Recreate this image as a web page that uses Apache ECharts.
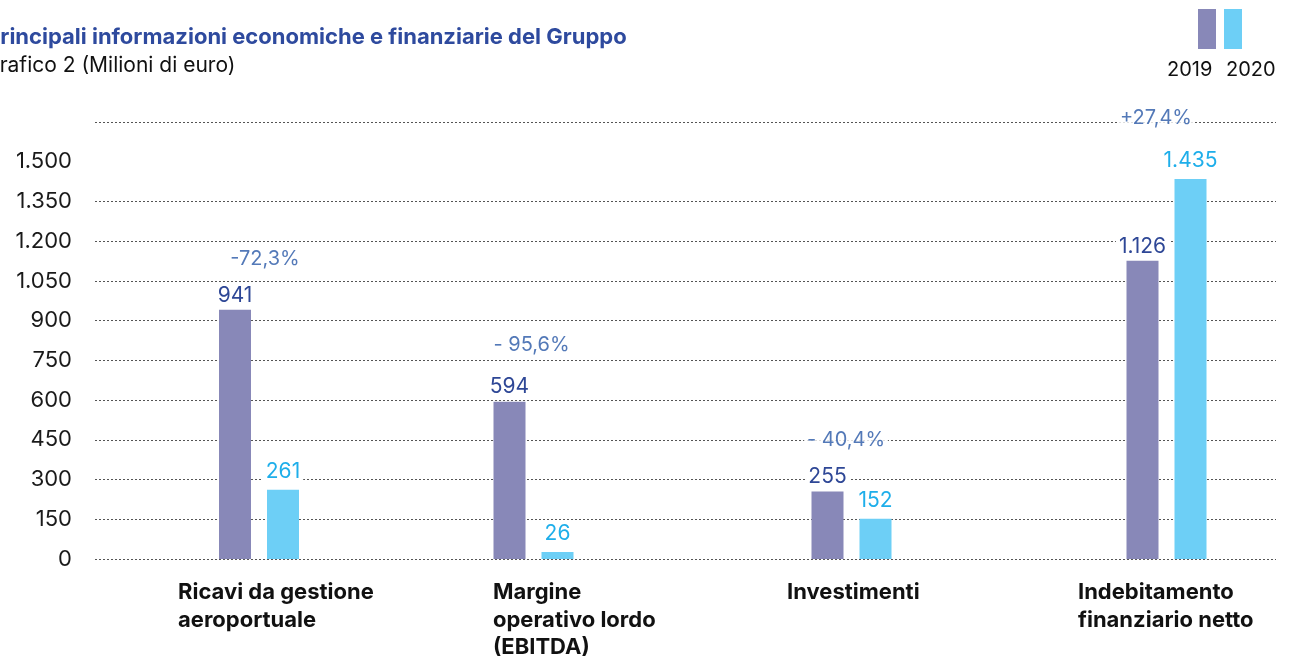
<!DOCTYPE html>
<html>
<head>
<meta charset="utf-8">
<script src="https://cdn.jsdelivr.net/npm/echarts@6/dist/echarts.min.js"></script>
<style>
  html, body { margin: 0; padding: 0; background: #fff; }
  #chart { width: 1295px; height: 666px; }
</style>
</head>
<body>
<div id="chart"></div>
<script>
// dati (milioni di euro)
const categories = ['Ricavi da gestione\naeroportuale', 'Margine\noperativo lordo\n(EBITDA)', 'Investimenti', 'Indebitamento\nfinanziario netto'];
const seriesNames = ['2019', '2020'];
const values2019 = [941, 594, 255, 1126];
const values2020 = [261, 26, 152, 1435];
const changes = ['-72,3%', '- 95,6%', '- 40,4%', '+27,4%'];
const yTickLabels = ['0', '150', '300', '450', '600', '750', '900', '1.050', '1.200', '1.350', '1.500'];
const gridLineValues = [0, 150, 300, 450, 600, 750, 900, 1050, 1200, 1350, 1650];

// layout
const colors = ['#8888b8', '#6dcff6'];
const labelColors = ['#2e4796', '#1eaeea'];
const changeColor = '#2858a6';
const FONT = 'Inter';
const PLOT = { top: 122, bottom: 107 };
const groupCenters = [259, 533.5, 851.5, 1166.5];
const labelShift = [81, 40.5, 64.5, 88.5];
const changeOffset = [[6, -35], [-2, -41], [-5.5, -35.5], [-10.5, -45]];
const Y_MAX = 1650;

function fmt(v) {
    return String(v).replace(/\B(?=(\d{3})+(?!\d))/g, '.');
}

let grids = [{ left: 95, right: 19, top: PLOT.top, bottom: PLOT.bottom }];
let xAxes = [{ type: 'value', gridIndex: 0, min: 0, max: 1, show: false }];
let yAxes = [{
    type: 'value', gridIndex: 0, min: 0, max: Y_MAX, interval: 150,
    axisLine: { show: false }, axisTick: { show: false }, splitLine: { show: false },
    axisLabel: {
        margin: 23, fontFamily: FONT, fontSize: 22, color: '#1a1a1a',
        formatter: v => yTickLabels[Math.round(v / 150)] || ''
    }
}];
let series = [{
    type: 'line', xAxisIndex: 0, yAxisIndex: 0, data: [], silent: true, z: 0,
    markLine: {
        z: 1, silent: true, symbol: ['none', 'none'], label: { show: false },
        lineStyle: { color: '#555', type: [2, 2], width: 1 },
        data: gridLineValues.map(v => ({ yAxis: v }))
    }
}];

categories.forEach((cat, i) => {
    const g = i + 1;
    grids.push({ left: groupCenters[i] - 100, width: 200, top: PLOT.top, bottom: PLOT.bottom });
    xAxes.push({
        type: 'category', gridIndex: g, data: [cat],
        axisLine: { show: false }, axisTick: { show: false },
        axisLabel: {
            margin: 20, align: 'center',
            formatter: v => v.split('\n').map(l => '{c|' + l + '}').join('\n'),
            rich: {
                c: {
                    width: 2 * labelShift[i], align: 'left', fontFamily: FONT,
                    fontWeight: 'bold', fontSize: 22, lineHeight: 27.5, color: '#111'
                }
            }
        }
    });
    yAxes.push({ type: 'value', gridIndex: g, min: 0, max: Y_MAX, show: false });
    [values2019, values2020].forEach((vals, k) => {
        series.push({
            type: 'bar', name: seriesNames[k], xAxisIndex: g, yAxisIndex: g,
            data: [vals[i]], barWidth: 32, barGap: '50%', z: 2,
            itemStyle: { color: colors[k] },
            label: {
                show: true, position: 'top', distance: k === 0 ? 4 : 8,
                formatter: p => fmt(p.value), fontFamily: FONT, fontSize: 21,
                color: labelColors[k], backgroundColor: '#fff', padding: [0, 3]
            }
        });
    });
    series.push({
        type: 'scatter', xAxisIndex: g, yAxisIndex: g, silent: true, z: 3,
        data: [Math.max(values2019[i], values2020[i])],
        symbolSize: 1, itemStyle: { color: 'transparent' },
        label: {
            show: true, position: 'top', distance: 5, offset: changeOffset[i],
            formatter: changes[i], fontFamily: FONT, fontSize: 20,
            color: changeColor, backgroundColor: '#fff', padding: [0, 3]
        }
    });
});

let option = {
    animation: false,
    title: [
        {
            text: 'Principali informazioni economiche e finanziarie del Gruppo',
            left: -14, top: 26, padding: 0,
            textStyle: { fontFamily: FONT, fontWeight: 'bold', fontSize: 22, color: '#2e4a9e' }
        },
        {
            text: 'Grafico 2 (Milioni di euro)',
            left: -16, top: 55, padding: 0,
            textStyle: { fontFamily: FONT, fontWeight: 'normal', fontSize: 21, color: '#111' }
        }
    ],
    graphic: seriesNames.flatMap((name, k) => [
        { type: 'rect', left: 1198 + k * 26, top: 9, shape: { width: 18, height: 40 }, style: { fill: colors[k] } },
        { type: 'text', left: 1167 + k * 59, top: 60, style: { text: name, font: '20px ' + FONT, fill: '#111' } }
    ]),
    grid: grids,
    xAxis: xAxes,
    yAxis: yAxes,
    series: series
};

let myChart = echarts.init(document.getElementById('chart'));
myChart.setOption(option);
</script>
</body>
</html>
